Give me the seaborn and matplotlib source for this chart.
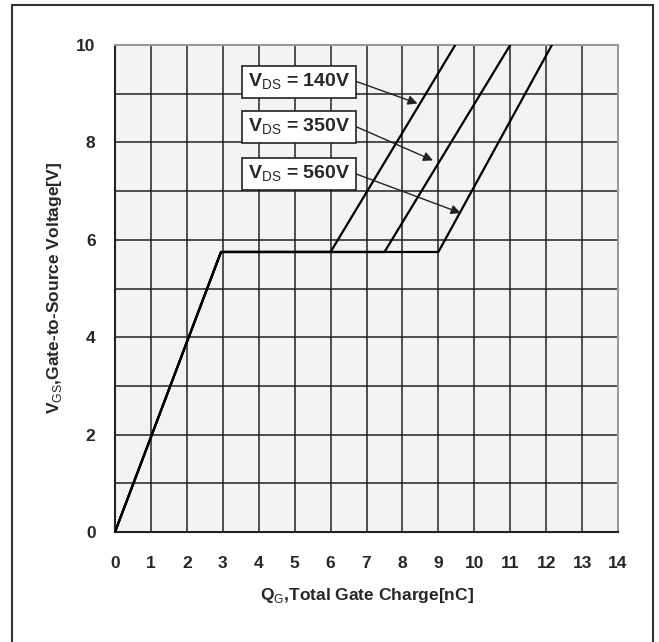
import matplotlib
matplotlib.use("Agg")
import matplotlib.pyplot as plt
import seaborn as sns
import pandas as pd
from matplotlib.patches import Rectangle

# Data
vds_labels = ["140V", "350V", "560V"]
rise_qg = [0.0, 2.95]
rise_vgs = [0.0, 5.75]
plateau_vgs = 5.75
plateau_end_qg = [6.0, 7.5, 9.0]
top_qg = [9.47, 11.0, 12.16]
top_vgs = 10.0

# annotation positions (data coords)
box_x = 5.12
box_y = [9.25, 8.32, 7.35]
arrow_from_x = 6.72
arrow_to = [(8.42, 8.80), (8.85, 7.63), (9.62, 6.55)]

sns.set_theme(style="white")
plt.rcParams['font.family'] = ['Liberation Sans', 'DejaVu Sans']
plt.rcParams['mathtext.fontset'] = 'custom'
plt.rcParams['mathtext.rm'] = 'Liberation Sans'

fig = plt.figure(figsize=(6.59, 6.42), dpi=100)
ax = fig.add_axes([115 / 659, 110 / 642, 503 / 659, 487 / 642])
ax.set_facecolor('#f3f3f3')

rows = []
for lab, xs, xe in zip(vds_labels, plateau_end_qg, top_qg):
    pts = [(rise_qg[0], rise_vgs[0]), (rise_qg[1], rise_vgs[1]),
           (xs, plateau_vgs), (xe, top_vgs)]
    for i, (q, v) in enumerate(pts):
        rows.append({'vds': lab, 'order': i, 'qg': q, 'vgs': v})
df = pd.DataFrame(rows)

for lab, grp in df.groupby('vds'):
    sns.lineplot(data=grp, x='qg', y='vgs', sort=False, color='black',
                 linewidth=1.6, ax=ax, legend=False, zorder=3)

ax.set_xlim(0, 14)
ax.set_ylim(0, 10)
ax.set_xticks(range(0, 15))
ax.set_yticks(range(0, 11, 2))
ax.set_yticks(range(1, 11, 2), minor=True)
ax.grid(True, which='both', color='#222222', linewidth=1.1, zorder=1)
ax.set_axisbelow(True)
ax.tick_params(which='both', length=0)
ax.tick_params(axis='x', pad=17)
ax.tick_params(axis='y', pad=14)
for t in ax.get_xticklabels() + ax.get_yticklabels():
    t.set_fontsize(12.5)
    t.set_fontweight('bold')

for side in ['left', 'bottom']:
    ax.spines[side].set_color('#222222')
    ax.spines[side].set_linewidth(1.5)
for side in ['top', 'right']:
    ax.spines[side].set_color('#999999')
    ax.spines[side].set_linewidth(1.5)

ax.set_xlabel(r'Q$_\mathrm{G}$,Total Gate Charge[nC]', fontsize=12.5,
              fontweight='bold', labelpad=11)
ax.set_ylabel(r'V$_\mathrm{GS}$,Gate-to-Source Voltage[V]', fontsize=12.5,
              fontweight='bold', labelpad=9)

for lab, by, (tx, ty) in zip(vds_labels, box_y, arrow_to):
    ax.annotate('', xy=(tx, ty), xytext=(arrow_from_x, by),
                arrowprops=dict(arrowstyle='-|>', color='#222222', lw=1.0,
                                mutation_scale=14, shrinkA=0, shrinkB=0), zorder=4)
    ax.text(box_x, by, r'V$_\mathrm{DS}$ = ' + lab, ha='center', va='center',
            fontsize=14, fontweight='bold', zorder=5,
            bbox=dict(boxstyle='square,pad=0.3', fc='white', ec='#222222', lw=1.2))

# outer frame around the figure
fig.patches.append(Rectangle((12 / 659, -0.05), 641 / 659, 1.05 - 5 / 642,
                             transform=fig.transFigure, fill=False,
                             edgecolor='#333333', linewidth=1.5))

fig.savefig('out.png', dpi=100)
